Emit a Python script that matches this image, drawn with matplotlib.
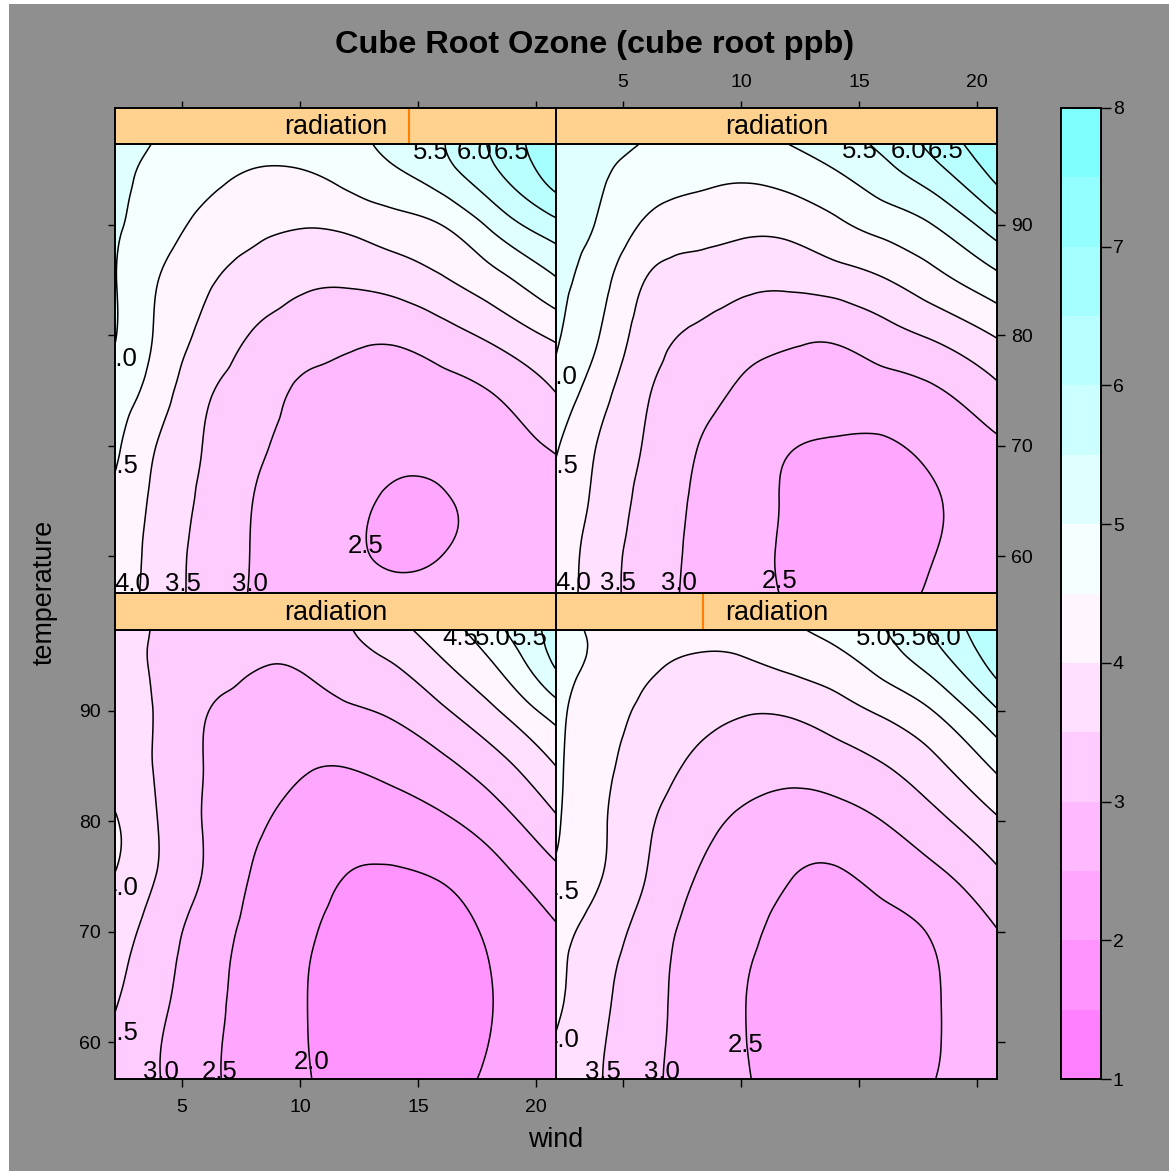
import numpy as np
import matplotlib
matplotlib.use("Agg")
import matplotlib.pyplot as plt
import matplotlib.tri as mtri
from matplotlib.colors import ListedColormap, BoundaryNorm, hsv_to_rgb
from matplotlib.patches import Rectangle
import matplotlib.colorbar as mcolorbar

plt.rcParams['font.family'] = ['Liberation Sans', 'DejaVu Sans']

# ---------------------------------------------------------------- data
TITLE = "Cube Root Ozone (cube root ppb)"
XLABEL = "wind"
YLABEL = "temperature"
STRIP_NAME = "radiation"

WIND = np.array([2.16, 4, 6, 8, 10, 12, 14, 16, 18, 20.85])
TEMP = np.array([97.34, 95, 90, 85, 80, 75, 70, 65, 60, 56.65])

# fitted cube-root ozone; one row per TEMP value, one column per WIND value
OZONE_RAD1 = np.array([
    [3.70, 3.46, 3.33, 3.26, 3.30, 3.47, 3.83, 4.26, 4.79, 5.70],
    [3.68, 3.44, 3.25, 3.08, 3.10, 3.36, 3.58, 4.02, 4.52, 5.65],
    [3.70, 3.45, 3.02, 2.87, 2.80, 2.92, 3.08, 3.42, 3.88, 4.75],
    [3.75, 3.45, 2.98, 2.72, 2.55, 2.51, 2.65, 2.88, 3.24, 4.00],
    [4.05, 3.49, 2.96, 2.58, 2.37, 2.24, 2.26, 2.42, 2.72, 3.42],
    [3.98, 3.47, 2.95, 2.47, 2.22, 1.99, 1.95, 2.03, 2.28, 2.85],
    [3.72, 3.27, 2.76, 2.38, 2.09, 1.88, 1.80, 1.85, 2.05, 2.45],
    [3.57, 3.15, 2.68, 2.33, 2.04, 1.85, 1.75, 1.78, 1.98, 2.30],
    [3.42, 3.03, 2.62, 2.31, 2.04, 1.87, 1.78, 1.80, 2.00, 2.30],
    [3.38, 3.02, 2.61, 2.31, 2.05, 1.90, 1.83, 1.87, 2.05, 2.30],
])
OZONE_RAD2 = np.array([
    [4.65, 4.43, 4.30, 4.22, 4.23, 4.42, 4.65, 4.97, 5.51, 6.45],
    [4.63, 4.43, 4.15, 3.98, 4.00, 4.20, 4.40, 4.77, 5.27, 6.30],
    [4.60, 4.24, 3.90, 3.66, 3.54, 3.56, 3.78, 4.08, 4.46, 5.45],
    [4.58, 4.14, 3.75, 3.43, 3.24, 3.15, 3.25, 3.47, 3.83, 4.60],
    [4.55, 4.09, 3.58, 3.20, 2.92, 2.77, 2.80, 3.00, 3.32, 3.93],
    [4.42, 4.03, 3.49, 3.01, 2.72, 2.52, 2.45, 2.63, 2.86, 3.40],
    [4.15, 3.79, 3.29, 2.86, 2.60, 2.40, 2.32, 2.36, 2.52, 2.98],
    [4.10, 3.65, 3.18, 2.82, 2.53, 2.35, 2.25, 2.28, 2.45, 2.80],
    [3.97, 3.56, 3.14, 2.82, 2.53, 2.35, 2.27, 2.30, 2.45, 2.78],
    [3.92, 3.53, 3.12, 2.80, 2.54, 2.40, 2.33, 2.37, 2.48, 2.77],
])
OZONE_RAD3 = np.array([
    [5.20, 4.97, 4.85, 4.78, 4.78, 4.85, 5.16, 5.47, 6.03, 6.85],
    [5.10, 4.90, 4.70, 4.49, 4.49, 4.70, 4.96, 5.33, 5.88, 6.80],
    [5.05, 4.75, 4.35, 4.12, 4.03, 4.10, 4.30, 4.50, 5.06, 5.85],
    [5.02, 4.50, 4.07, 3.80, 3.60, 3.57, 3.70, 3.95, 4.28, 4.95],
    [5.02, 4.42, 3.86, 3.47, 3.25, 3.11, 3.08, 3.28, 3.59, 4.10],
    [4.80, 4.24, 3.58, 3.25, 2.94, 2.85, 2.82, 2.88, 3.00, 3.52],
    [4.60, 3.97, 3.47, 3.10, 2.85, 2.70, 2.62, 2.65, 2.78, 3.05],
    [4.40, 3.87, 3.39, 3.00, 2.78, 2.61, 2.45, 2.47, 2.62, 2.85],
    [4.35, 3.80, 3.33, 2.98, 2.75, 2.58, 2.45, 2.50, 2.62, 2.80],
    [4.30, 3.78, 3.32, 2.97, 2.78, 2.65, 2.60, 2.62, 2.70, 2.85],
])
OZONE_RAD4 = np.array([
    [5.35, 5.18, 4.97, 4.85, 4.85, 5.00, 5.28, 5.60, 6.10, 6.92],
    [5.30, 5.08, 4.82, 4.68, 4.62, 4.75, 5.00, 5.36, 5.81, 6.70],
    [5.15, 4.95, 4.42, 4.22, 4.12, 4.15, 4.40, 4.68, 4.97, 5.80],
    [5.10, 4.70, 3.98, 3.78, 3.65, 3.62, 3.75, 3.96, 4.30, 4.85],
    [5.05, 4.50, 3.75, 3.44, 3.22, 3.09, 3.07, 3.30, 3.55, 4.04],
    [4.85, 4.21, 3.55, 3.20, 2.94, 2.80, 2.77, 2.80, 2.93, 3.40],
    [4.55, 3.96, 3.45, 3.03, 2.75, 2.53, 2.45, 2.45, 2.60, 2.92],
    [4.38, 3.87, 3.34, 2.96, 2.69, 2.46, 2.33, 2.33, 2.45, 2.75],
    [4.33, 3.75, 3.28, 2.92, 2.65, 2.45, 2.32, 2.32, 2.48, 2.70],
    [4.30, 3.73, 3.27, 2.90, 2.65, 2.47, 2.37, 2.38, 2.53, 2.70],
])

# radiation level index of each panel (1 = lowest of four)
RAD_LEVEL = [1, 2, 3, 4]
N_RAD = 4

LEVELS = np.arange(1.0, 8.01, 0.5)
XTICKS = [5, 10, 15, 20]
YTICKS = [60, 70, 80, 90]
CBAR_TICKS = [1, 2, 3, 4, 5, 6, 7, 8]

# contour labels: (level, wind, temperature)
LABELS_RAD1 = [(4.5, 16.81, 96.6), (5.0, 18.19, 96.6), (5.5, 19.75, 96.6),
               (4.0, 2.37, 73.93), (3.5, 2.37, 60.79),
               (3.0, 4.11, 57.31), (2.5, 6.61, 57.31), (2.0, 10.5, 58.22)]
LABELS_RAD2 = [(5.0, 15.64, 96.6), (5.5, 17.12, 96.6), (6.0, 18.6, 96.6),
               (4.5, 2.37, 73.63), (4.0, 2.37, 60.18),
               (3.5, 4.15, 57.31), (3.0, 6.64, 57.31), (2.5, 10.21, 59.73)]
LABELS_RAD3 = [(5.5, 15.55, 96.65), (6.0, 17.42, 96.65), (6.5, 18.98, 96.65),
               (5.0, 2.37, 77.83), (4.5, 2.37, 68.14),
               (4.0, 2.88, 57.47), (3.5, 5.06, 57.47), (3.0, 7.86, 57.47),
               (2.5, 12.8, 60.93)]
LABELS_RAD4 = [(5.5, 15.04, 96.67), (6.0, 17.12, 96.67), (6.5, 18.67, 96.67),
               (5.0, 2.33, 76.26), (4.5, 2.33, 68.16),
               (4.0, 2.88, 57.53), (3.5, 4.79, 57.53), (3.0, 7.37, 57.53),
               (2.5, 11.65, 57.7)]

# ---------------------------------------------------------------- styling
W_PX, H_PX = 1169, 1171
BG_GRAY = "#8F8F8F"
STRIP_BG = "#FFD18F"
STRIP_MARK = "#FF7F00"
SPINE_LW = 1.4
XLIM = (WIND[0], WIND[-1])
YLIM = (TEMP[-1], TEMP[0])


def region_palette(n=100):
    k = n // 2
    cyan = [hsv_to_rgb((6 / 12, s, 1.0)) for s in np.linspace(0.5, 0.5 / k, k)]
    mag = [hsv_to_rgb((10 / 12, s, 1.0)) for s in np.linspace(0.0, 0.5, k + 1)[1:]]
    return (cyan + mag)[::-1]


pal = region_palette()
idx = np.round(np.linspace(0, len(pal) - 1, len(LEVELS) - 1)).astype(int)
BAND_COLORS = [pal[i] for i in idx]


def fig_rect(x0, y0, x1, y1):
    """pixel box (top-left origin) -> figure fraction rect"""
    return [x0 / W_PX, 1 - y1 / H_PX, (x1 - x0) / W_PX, (y1 - y0) / H_PX]


fig = plt.figure(figsize=(W_PX / 100, H_PX / 100), dpi=100, facecolor="white")
fig.patches.append(Rectangle((9 / W_PX, 0), 1, 1 - 4 / H_PX, transform=fig.transFigure,
                             facecolor=BG_GRAY, edgecolor="none", zorder=-10))


def style_spines(ax):
    for s in ax.spines.values():
        s.set_linewidth(SPINE_LW)
        s.set_color("black")


def grid_triangulation():
    gw, gt = np.meshgrid(WIND, TEMP)
    ny, nx = gw.shape
    tris = []
    for r in range(ny - 1):
        for c in range(nx - 1):
            a = r * nx + c
            b, d, e = a + 1, a + nx, a + nx + 1
            tris.append([a, b, e])
            tris.append([a, e, d])
    return mtri.Triangulation(gw.ravel(), gt.ravel(), triangles=np.array(tris))


TRI = grid_triangulation()


def draw_panel(ax, z, labels):
    interp = mtri.CubicTriInterpolator(TRI, z.ravel(), kind="min_E")
    refiner = mtri.UniformTriRefiner(TRI)
    tri_f, z_f = refiner.refine_field(z.ravel(), triinterpolator=interp, subdiv=4)
    ax.tricontourf(tri_f, z_f, levels=LEVELS, colors=BAND_COLORS, antialiased=True)
    ax.tricontour(tri_f, z_f, levels=LEVELS, colors="black", linewidths=1.1)
    for lev, w, t in labels:
        ax.text(w, t, f"{lev:.1f}", ha="center", va="center", fontsize=18.5,
                color="black", clip_on=True, zorder=5)
    ax.set_xlim(*XLIM)
    ax.set_ylim(*YLIM)
    ax.set_xticks(XTICKS)
    ax.set_yticks(YTICKS)
    style_spines(ax)


def draw_strip(ax, level, top_ticks=False, top_labels=False):
    ax.set_facecolor(STRIP_BG)
    ax.set_xlim(*XLIM)
    ax.set_ylim(0, 1)
    pos = XLIM[0] + (level - 1) / (N_RAD - 1) * (XLIM[1] - XLIM[0])
    ax.axvline(pos, color=STRIP_MARK, lw=1.5, zorder=2)
    ax.text(0.5, 0.47, STRIP_NAME, transform=ax.transAxes, ha="center", va="center",
            fontsize=19.4, color="black", zorder=3)
    ax.set_yticks([])
    ax.set_xticks(XTICKS)
    ax.tick_params(axis="x", bottom=False, labelbottom=False, top=top_ticks,
                   labeltop=top_labels, direction="out", length=5.4, width=1.0,
                   labelsize=14, pad=6.7)
    style_spines(ax)


TICK_KW = dict(direction="out", length=5.4, width=1.0, labelsize=14)

# panel boxes in pixels: (x0, y0, x1, y1)
panels = [
    # bottom-left, bottom-right, top-left, top-right
    dict(z=OZONE_RAD1, labels=LABELS_RAD1, lev=RAD_LEVEL[0],
         box=(115, 630, 556, 1079), strip=(115, 593, 556, 630)),
    dict(z=OZONE_RAD2, labels=LABELS_RAD2, lev=RAD_LEVEL[1],
         box=(556, 630, 997, 1079), strip=(556, 593, 997, 630)),
    dict(z=OZONE_RAD3, labels=LABELS_RAD3, lev=RAD_LEVEL[2],
         box=(115, 144, 556, 593), strip=(115, 108, 556, 144)),
    dict(z=OZONE_RAD4, labels=LABELS_RAD4, lev=RAD_LEVEL[3],
         box=(556, 144, 997, 593), strip=(556, 108, 997, 144)),
]

for i, p in enumerate(panels):
    ax = fig.add_axes(fig_rect(*p["box"]))
    draw_panel(ax, p["z"], p["labels"])
    sax = fig.add_axes(fig_rect(*p["strip"]))
    if i == 0:    # bottom-left: labelled bottom and left axes
        ax.tick_params(axis="x", bottom=True, labelbottom=True, top=False, pad=8.9, **TICK_KW)
        ax.tick_params(axis="y", left=True, labelleft=True, right=False, pad=4.7, **TICK_KW)
        draw_strip(sax, p["lev"])
    elif i == 1:  # bottom-right: bare bottom and right ticks
        ax.tick_params(axis="x", bottom=True, labelbottom=False, top=False, **TICK_KW)
        ax.tick_params(axis="y", left=False, labelleft=False, right=True,
                       labelright=False, **TICK_KW)
        draw_strip(sax, p["lev"])
    elif i == 2:  # top-left: bare left ticks, bare top ticks on strip
        ax.tick_params(axis="x", bottom=False, labelbottom=False, top=False, **TICK_KW)
        ax.tick_params(axis="y", left=True, labelleft=False, right=False, **TICK_KW)
        draw_strip(sax, p["lev"], top_ticks=True, top_labels=False)
    else:         # top-right: labelled right axis and labelled top ticks on strip
        ax.tick_params(axis="x", bottom=False, labelbottom=False, top=False, **TICK_KW)
        ax.tick_params(axis="y", left=False, labelleft=False, right=True,
                       labelright=True, pad=5.0, **TICK_KW)
        draw_strip(sax, p["lev"], top_ticks=True, top_labels=True)

# colour key
cax = fig.add_axes(fig_rect(1061, 108, 1101, 1079))
cb = mcolorbar.ColorbarBase(cax, cmap=ListedColormap(BAND_COLORS),
                            norm=BoundaryNorm(LEVELS, len(LEVELS) - 1),
                            boundaries=LEVELS, ticks=CBAR_TICKS, orientation="vertical")
cb.set_ticklabels([str(t) for t in CBAR_TICKS])
cb.outline.set_linewidth(SPINE_LW)
cax.tick_params(axis="y", right=True, direction="out", length=7.0, width=1.0,
                labelsize=14, pad=1.5)
cax.minorticks_off()

fig.text(595 / W_PX, 1 - 45 / H_PX, TITLE, ha="center", va="center",
         fontsize=23.4, fontweight="bold")
fig.text(556 / W_PX, 1 - 1140 / H_PX, XLABEL, ha="center", va="center", fontsize=19.4)
fig.text(45 / W_PX, 1 - 592 / H_PX, YLABEL, ha="center", va="center",
         fontsize=19.4, rotation=90)

fig.savefig("out.png", dpi=100, facecolor=fig.get_facecolor())
